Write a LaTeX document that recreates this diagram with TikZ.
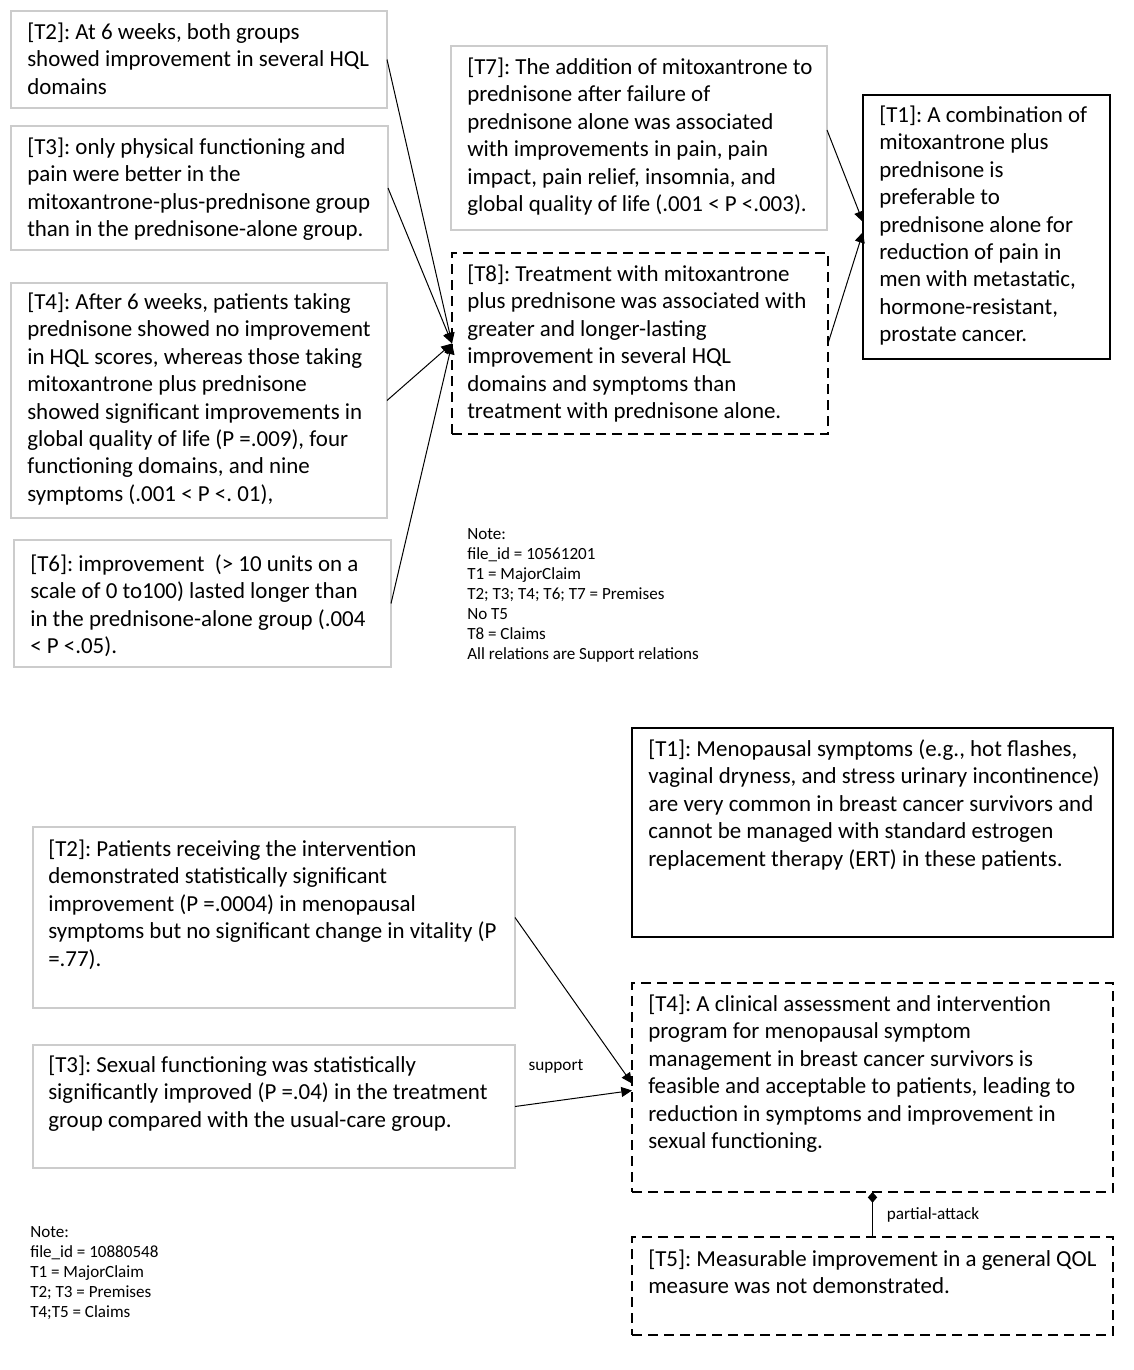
\documentclass[tikz,border=0pt]{standalone}
\usepackage{fontspec}
\setmainfont{Carlito}
\usetikzlibrary{arrows.meta,calc}
\frenchspacing
\begin{document}
\frenchspacing
\begin{tikzpicture}[x=0.75pt,y=-0.75pt,
  premise/.style={draw=gray!40,line width=1.5pt,inner sep=0pt,outer sep=0pt,anchor=north west},
  claimbox/.style={draw=black,line width=1.5pt,dash pattern=on 7.5pt off 4.5pt,inner sep=0pt,outer sep=0pt,anchor=north west},
  majorbox/.style={draw=black,line width=1.5pt,inner sep=0pt,outer sep=0pt,anchor=north west},
  txt/.style={inner sep=0pt,anchor=north west,align=left,font=\fontsize{17.2}{20.6}\selectfont},
  notetxt/.style={inner sep=0pt,anchor=north west,align=left,font=\fontsize{12.8}{15}\selectfont},
  lbl/.style={inner sep=0pt,font=\fontsize{12.9}{14}\selectfont},
  sup/.style={line width=0.75pt,-{Triangle[length=8pt,width=7.5pt]}},
  att/.style={line width=0.75pt,{Diamond[length=8pt,width=7pt]}-}
]
\useasboundingbox (0,0) rectangle (1133,1370);
% ---------- top diagram ----------
\node[premise,minimum width={376*0.75pt},minimum height={97*0.75pt}] (a2) at (11,11) {};
\node[txt] (a2t) at (27,32-12.3) {\strut[T2]: At 6 weeks, both groups\\showed improvement in several HQL\\domains};
\node[premise,minimum width={377*0.75pt},minimum height={124*0.75pt}] (a3) at (11,126) {};
\node[txt] (a3t) at (27,147-12.3) {\strut[T3]: only physical functioning and\\pain were better in the\\mitoxantrone-plus-prednisone group\\than in the prednisone-alone group.};
\node[premise,minimum width={376*0.75pt},minimum height={235*0.75pt}] (a4) at (11,283) {};
\node[txt] (a4t) at (27,302-12.3) {\strut[T4]: After 6 weeks, patients taking\\prednisone showed no improvement\\in HQL scores, whereas those taking\\mitoxantrone plus prednisone\\showed significant improvements in\\global quality of life (P =.009), four\\functioning domains, and nine\\symptoms (.001 < P <. 01),};
\node[premise,minimum width={377*0.75pt},minimum height={127*0.75pt}] (a6) at (14,540) {};
\node[txt] (a6t) at (30,564-12.3) {\strut[T6]: improvement~ (> 10 units on a\\scale of 0 to100) lasted longer than\\in the prednisone-alone group (.004\\< P <.05).};
\node[premise,minimum width={376*0.75pt},minimum height={184*0.75pt}] (a7) at (451,46) {};
\node[txt] (a7t) at (467,67-12.3) {\strut[T7]: The addition of mitoxantrone to\\prednisone after failure of\\prednisone alone was associated\\with improvements in pain, pain\\impact, pain relief, insomnia, and\\global quality of life (.001 < P <.003).};
\node[claimbox,minimum width={376*0.75pt},minimum height={181*0.75pt}] (a8) at (452,253) {};
\node[txt] (a8t) at (467,274-12.3) {\strut[T8]: Treatment with mitoxantrone\\plus prednisone was associated with\\greater and longer-lasting\\improvement in several HQL\\domains and symptoms than\\treatment with prednisone alone.};
\node[majorbox,minimum width={247*0.75pt},minimum height={264*0.75pt}] (a1) at (863,95) {};
\node[txt] (a1t) at (879,115-12.3) {\strut[T1]: A combination of\\mitoxantrone plus\\prednisone is\\preferable to\\prednisone alone for\\reduction of pain in\\men with metastatic,\\hormone-resistant,\\prostate cancer.};
\node[notetxt] (anote) at (467,525) {\strut Note:\\file\_id = 10561201\\T1 = MajorClaim\\T2; T3; T4; T6; T7 = Premises\\No T5\\T8 = Claims\\All relations are Support relations};
\draw[sup] (a2.east) -- (a8.west);
\draw[sup] (a3.east) -- (a8.west);
\draw[sup] (a4.east) -- (a8.west);
\draw[sup] (a6.east) -- (a8.west);
\draw[sup] ($(a7.east)+(0,-8)$) -- ($(a1.west)+(0,-5)$);
\draw[sup] (a8.east) -- ($(a1.west)+(0,5)$);
% ---------- bottom diagram ----------
\node[majorbox,minimum width={481*0.75pt},minimum height={209*0.75pt}] (b1) at (632,728) {};
\node[txt] (b1t) at (648,749-12.3) {\strut[T1]: Menopausal symptoms (e.g., hot flashes,\\vaginal dryness, and stress urinary incontinence)\\are very common in breast cancer survivors and\\cannot be managed with standard estrogen\\replacement therapy (ERT) in these patients.};
\node[premise,minimum width={482*0.75pt},minimum height={181*0.75pt}] (b2) at (33,827) {};
\node[txt] (b2t) at (48,849-12.3) {\strut[T2]: Patients receiving the intervention\\demonstrated statistically significant\\improvement (P =.0004) in menopausal\\symptoms but no significant change in vitality (P\\=.77).};
\node[premise,minimum width={482*0.75pt},minimum height={123*0.75pt}] (b3) at (33,1045) {};
\node[txt] (b3t) at (48,1065-12.3) {\strut[T3]: Sexual functioning was statistically\\significantly improved (P =.04) in the treatment\\group compared with the usual-care group.};
\node[claimbox,minimum width={481*0.75pt},minimum height={209*0.75pt}] (b4) at (632,983) {};
\node[txt] (b4t) at (648,1004-12.3) {\strut[T4]: A clinical assessment and intervention\\program for menopausal symptom\\management in breast cancer survivors is\\feasible and acceptable to patients, leading to\\reduction in symptoms and improvement in\\sexual functioning.};
\node[claimbox,minimum width={481*0.75pt},minimum height={98*0.75pt}] (b5) at (632,1237) {};
\node[txt] (b5t) at (648,1259-12.3) {\strut[T5]: Measurable improvement in a general QOL\\measure was not demonstrated.};
\node[notetxt] (bnote) at (30,1223) {\strut Note:\\file\_id = 10880548\\T1 = MajorClaim\\T2; T3 = Premises\\T4;T5 = Claims};
\draw[sup] (b2.east) -- ($(b4.west)+(0,-4)$);
\draw[sup] (b3.east) -- ($(b4.west)+(0,3)$);
\node[lbl] (lsup) at (556,1066) {support};
\draw[att] (b4.south) -- (b5.north);
\node[lbl] (latt) at (933,1215) {partial-attack};
\end{tikzpicture}
\end{document}
